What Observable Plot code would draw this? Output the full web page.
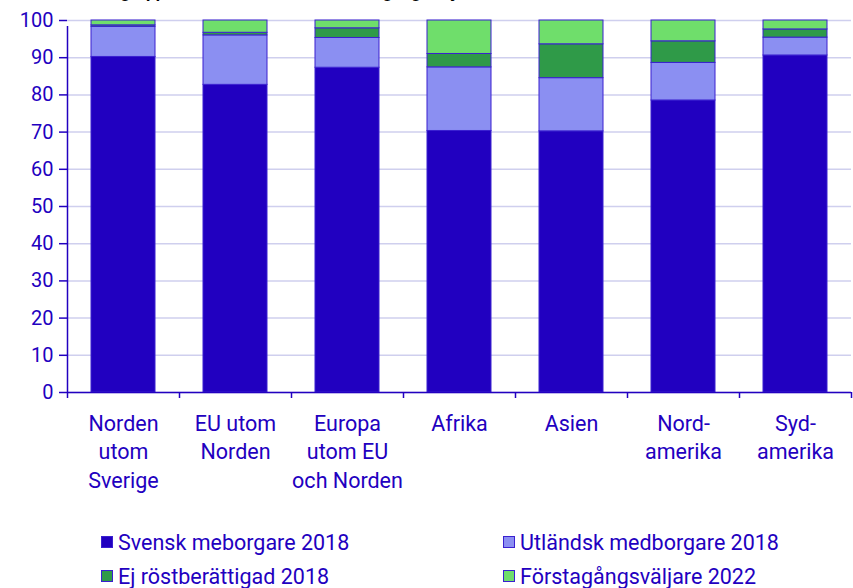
<!DOCTYPE html>
<html>
<head>
<meta charset="utf-8">
<script src="https://cdn.jsdelivr.net/npm/d3@7"></script>
<script src="https://cdn.jsdelivr.net/npm/@observablehq/plot@0.6"></script>
<style>
  html, body { margin: 0; padding: 0; background: white; }
  body { width: 853px; height: 588px; overflow: hidden; position: relative; font-family: Roboto, sans-serif; }
  #title { position: absolute; left: 5px; top: -16px; font: bold 17px/1 Roboto, sans-serif; color: #000; white-space: nowrap; }
  #chart { position: absolute; left: 0; top: 0; }
  #legend { position: absolute; left: 101px; top: 529px; display: grid; grid-template-columns: 402px 340px; row-gap: 8px; }
  .item { display: flex; align-items: center; font-size: 21.5px; color: #2200c0; height: 26px; white-space: nowrap; }
  .sw { width: 12px; height: 12px; border: 1px solid #3a20d0; margin-right: 5px; box-sizing: border-box; }
</style>
</head>
<body>
<div id="chart"></div>
<div id="title">Utrikes födda i grupp efter status 2018 och förstagångsväljare 2022 efter födelseland</div>
<div id="legend"></div>
<script>
const categories = ["Norden\nutom\nSverige", "EU utom\nNorden", "Europa\nutom EU\noch Norden", "Afrika", "Asien", "Nord-\namerika", "Syd-\namerika"];
const seriesNames = ["Svensk meborgare 2018", "Utländsk medborgare 2018", "Ej röstberättigad 2018", "Förstagångsväljare 2022"];
const svensk   = [90.2, 82.7, 87.3, 70.3, 70.2, 78.5, 90.6];
const utlandsk = [8.1, 13.3, 8.0, 17.1, 14.3, 10.1, 4.8];
const ejRost   = [0.4, 0.7, 2.6, 3.6, 9.1, 5.8, 2.2];
const forsta   = [1.3, 3.3, 2.1, 9.0, 6.4, 5.6, 2.4];
const yTicks = [0, 10, 20, 30, 40, 50, 60, 70, 80, 90, 100];
const colors = ["#2100c0", "#8b8ff2", "#2f9a48", "#6fde6b"];

const seriesValues = [svensk, utlandsk, ejRost, forsta];
const data = [];
categories.forEach((c, i) => {
  seriesNames.forEach((s, j) => data.push({category: c, series: s, value: seriesValues[j][i]}));
});

const blue = "#2200c0";
const W = 853, H = 500;
const plot = Plot.plot({
  width: W,
  height: H,
  marginTop: 20,
  marginLeft: 67,
  marginRight: 2,
  marginBottom: H - 392,
  style: {fontFamily: "Roboto, sans-serif", fontSize: "19px", color: blue, background: "white", overflow: "visible"},
  x: {domain: categories, paddingInner: 0.43, paddingOuter: 0.215, label: null},
  y: {domain: [0, 100], ticks: yTicks, label: null},
  color: {domain: seriesNames, range: colors},
  marks: [
    Plot.gridY(yTicks, {stroke: "#cfcfee", strokeOpacity: 1, strokeWidth: 1.5}),
    Plot.barY(data, {x: "category", y: "value", fill: "series", order: seriesNames, stroke: "#3a20d0", strokeWidth: 1}),
    Plot.ruleY([0], {stroke: blue, strokeWidth: 1.5}),
    Plot.ruleX(categories, {x: d => d, dx: -56, y1: 0, y2: 0, insetBottom: -6, stroke: blue, strokeWidth: 1.5}),
    Plot.ruleX([categories[categories.length - 1]], {x: d => d, dx: 56, y1: 0, y2: 0, insetBottom: -6, stroke: blue, strokeWidth: 1.5}),
    Plot.ruleX([categories[0]], {x: d => d, dx: -56, y1: 0, y2: 100, insetBottom: -6, stroke: blue, strokeWidth: 1.5}),
    Plot.axisY(yTicks, {tickSize: 8, tickPadding: 6, stroke: blue, strokeWidth: 1.5, fill: blue, fontSize: 20, tickFormat: d => d}),
    Plot.axisX({tickSize: 0, tickPadding: 18, lineHeight: 1.33, fontSize: 21.5, fill: blue})
  ]
});
document.getElementById("chart").appendChild(plot);

const legend = document.getElementById("legend");
[0, 1, 2, 3].forEach(i => {
  const item = document.createElement("div");
  item.className = "item";
  const sw = document.createElement("span");
  sw.className = "sw";
  sw.style.background = colors[i];
  item.appendChild(sw);
  item.appendChild(document.createTextNode(seriesNames[i]));
  legend.appendChild(item);
});
</script>
</body>
</html>
